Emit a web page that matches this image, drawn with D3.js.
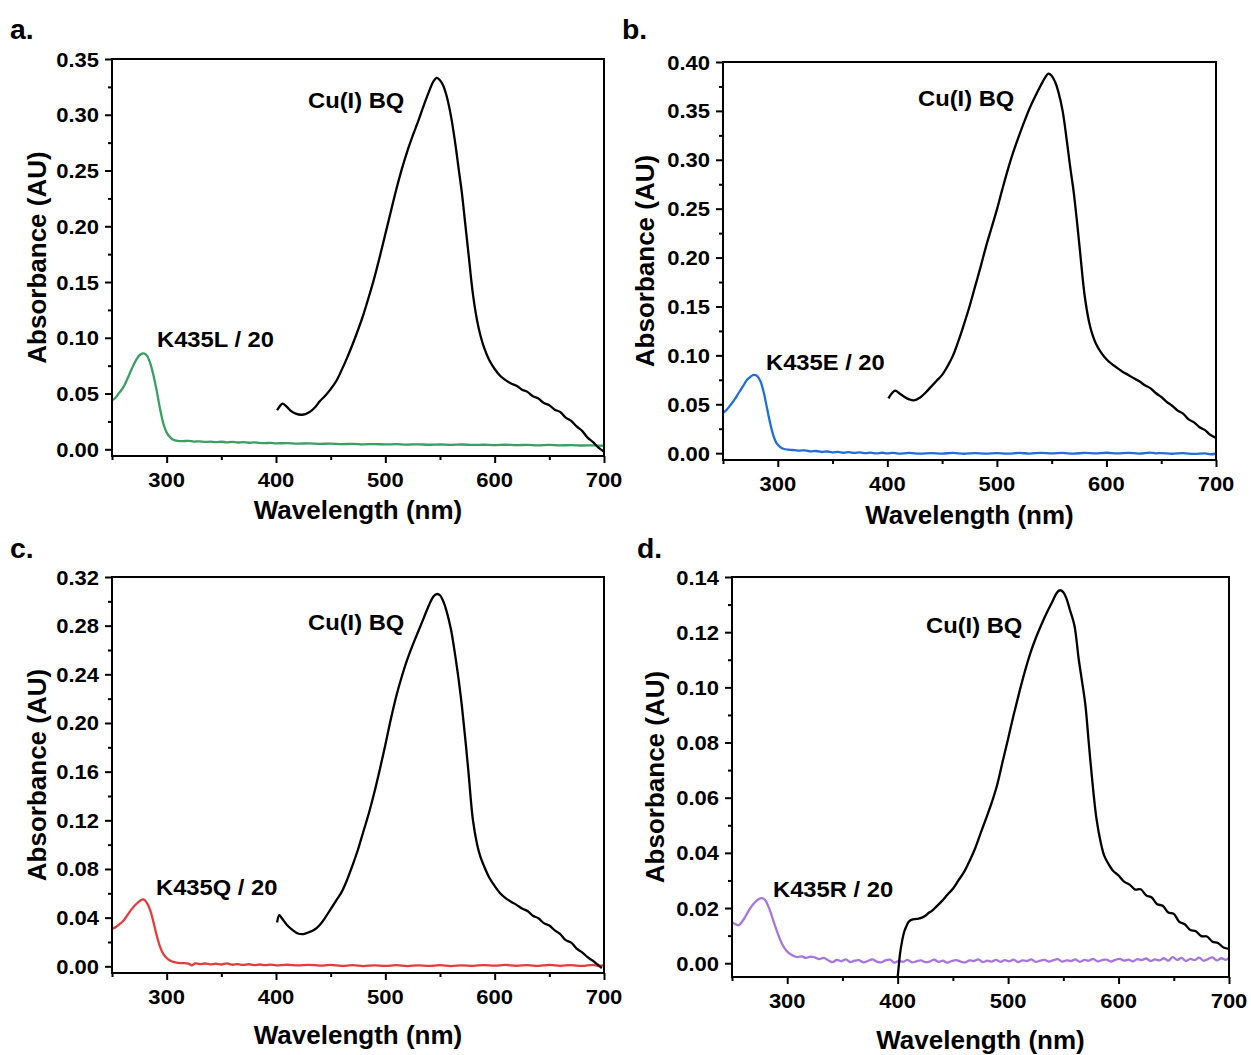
<!DOCTYPE html>
<html>
<head>
<meta charset="utf-8">
<script src="https://cdn.jsdelivr.net/npm/d3@7"></script>
<style>
  html, body { margin: 0; padding: 0; background: #fff; }
  svg { display: block; }
  text { font-family: "Liberation Sans", Arial, sans-serif; font-weight: bold; fill: #000; }
</style>
</head>
<body>
<svg id="fig" width="1251" height="1055"></svg>
<script>
// ---------- tick values ----------
const wavelengthTicks = [300, 400, 500, 600, 700];
const wavelengthMinor = [250, 350, 450, 550, 650];
const absTicksA = [0.00, 0.05, 0.10, 0.15, 0.20, 0.25, 0.30, 0.35];
const absTicksB = [0.00, 0.05, 0.10, 0.15, 0.20, 0.25, 0.30, 0.35, 0.40];
const absTicksC = [0.00, 0.04, 0.08, 0.12, 0.16, 0.20, 0.24, 0.28, 0.32];
const absTicksD = [0.00, 0.02, 0.04, 0.06, 0.08, 0.10, 0.12, 0.14];

// ---------- labels ----------
const panelLetters = ["a.", "b.", "c.", "d."];
const mutantLabels = ["K435L / 20", "K435E / 20", "K435Q / 20", "K435R / 20"];
const complexLabel = "Cu(I) BQ";
const xTitle = "Wavelength (nm)";
const yTitle = "Absorbance (AU)";

// ---------- spectra: [wavelength nm, absorbance AU] ----------
const cuBQ_a = [[401,0.035],[403,0.038],[406,0.041],[409,0.039],[413,0.035],[418,0.032],[424,0.031],[430,0.033],[436,0.038],[440,0.043],[445,0.048],[450,0.054],[455,0.061],[460,0.071],[465,0.082],[470,0.094],[475,0.107],[480,0.121],[485,0.137],[490,0.154],[495,0.173],[500,0.193],[505,0.213],[510,0.233],[515,0.251],[520,0.267],[525,0.281],[530,0.294],[535,0.308],[540,0.321],[544,0.330],[547,0.333],[550,0.331],[553,0.326],[556,0.317],[560,0.299],[564,0.274],[567,0.252],[570,0.230],[573,0.203],[576,0.176],[580,0.140],[584,0.115],[587,0.102],[590,0.092],[595,0.080],[600,0.072],[605,0.066],[610,0.062],[615,0.059],[620,0.057],[625,0.0535],[630,0.0515],[635,0.0475],[640,0.0455],[645,0.0415],[650,0.0395],[655,0.0355],[660,0.0335],[665,0.0285],[670,0.0255],[675,0.0205],[680,0.0165],[685,0.0105],[690,0.0065],[695,0.0015],[700,-0.002]];

const k435L = [[250,0.044],[253,0.046],[256,0.050],[260,0.055],[264,0.063],[268,0.072],[272,0.080],[276,0.085],[279,0.086],[282,0.084],[285,0.077],[288,0.066],[291,0.052],[294,0.036],[297,0.023],[300,0.015],[303,0.011],[306,0.0085],[310,0.0075],[315,0.0073],[320,0.0076],[325,0.0069],[330,0.0072],[335,0.0066],[340,0.0069],[345,0.0064],[350,0.0068],[355,0.0063],[360,0.0066],[365,0.0061],[370,0.0064],[375,0.0059],[380,0.0062],[385,0.0057],[390,0.0055],[395,0.0058],[400,0.0053],[410,0.0056],[420,0.0051],[430,0.0053],[440,0.0049],[450,0.0051],[460,0.0046],[470,0.0049],[480,0.0045],[490,0.0047],[500,0.0044],[510,0.0046],[520,0.0042],[530,0.0045],[540,0.0041],[550,0.0043],[560,0.0040],[570,0.0043],[580,0.0039],[590,0.0041],[600,0.0038],[610,0.0041],[620,0.0037],[630,0.0040],[640,0.0036],[650,0.0039],[660,0.0035],[670,0.0038],[680,0.0034],[690,0.0036],[700,0.0032]];

const cuBQ_b = [[401,0.056],[404,0.061],[407,0.064],[410,0.062],[415,0.058],[420,0.055],[424,0.054],[430,0.057],[435,0.062],[440,0.068],[445,0.074],[450,0.080],[455,0.089],[460,0.100],[465,0.115],[470,0.132],[475,0.150],[480,0.170],[485,0.190],[490,0.211],[495,0.230],[500,0.249],[505,0.270],[510,0.290],[515,0.308],[520,0.324],[525,0.339],[530,0.353],[535,0.365],[540,0.376],[544,0.384],[547,0.388],[550,0.386],[553,0.380],[556,0.370],[560,0.350],[564,0.318],[567,0.292],[570,0.268],[573,0.238],[576,0.205],[580,0.162],[584,0.135],[587,0.122],[590,0.113],[595,0.103],[600,0.096],[605,0.091],[610,0.087],[615,0.083],[620,0.080],[625,0.0765],[630,0.0735],[635,0.0695],[640,0.0665],[645,0.0615],[650,0.0575],[655,0.0525],[660,0.0485],[665,0.0435],[670,0.0405],[675,0.0345],[680,0.0315],[685,0.0265],[690,0.0235],[695,0.0185],[700,0.0156]];

const k435E = [[250,0.041],[253,0.044],[256,0.048],[260,0.054],[264,0.061],[268,0.068],[272,0.075],[275,0.078],[278,0.080],[281,0.079],[284,0.074],[287,0.063],[290,0.047],[293,0.031],[296,0.018],[299,0.010],[302,0.0065],[305,0.0045],[310,0.0035],[315,0.0031],[320,0.0026],[325,0.0029],[330,0.0018],[335,0.0022],[340,0.0012],[345,0.0017],[350,0.0008],[355,0.0013],[360,0.0004],[365,0.0010],[370,0.0002],[375,0.0008],[380,0.0000],[385,0.0006],[390,-0.0003],[395,0.0004],[400,-0.0002],[405,0.0003],[410,-0.0004],[420,0.0002],[430,-0.0005],[440,0.0001],[450,-0.0004],[460,0.0002],[470,-0.0006],[480,0.0001],[490,-0.0004],[500,0.0000],[510,-0.0005],[520,0.0002],[530,-0.0004],[540,0.0003],[550,-0.0003],[560,0.0002],[570,-0.0005],[580,0.0003],[590,-0.0002],[600,0.0004],[610,-0.0003],[620,0.0003],[630,-0.0004],[640,0.0006],[645,-0.0002],[650,0.0001],[660,-0.0006],[670,0.0000],[680,-0.0008],[690,-0.0002],[695,-0.0011],[700,-0.0006]];

const cuBQ_c = [[401,0.036],[403,0.042],[405,0.040],[410,0.034],[415,0.030],[420,0.027],[425,0.0265],[430,0.028],[435,0.030],[440,0.034],[445,0.040],[450,0.047],[455,0.054],[460,0.061],[465,0.071],[470,0.083],[475,0.096],[480,0.111],[485,0.126],[490,0.143],[495,0.162],[500,0.182],[505,0.203],[510,0.222],[515,0.238],[520,0.252],[525,0.264],[530,0.275],[535,0.286],[540,0.297],[544,0.304],[547,0.306],[550,0.305],[553,0.300],[556,0.292],[560,0.277],[564,0.255],[567,0.236],[570,0.214],[573,0.188],[576,0.160],[580,0.121],[584,0.100],[587,0.090],[590,0.083],[595,0.073],[600,0.066],[605,0.060],[610,0.056],[615,0.053],[620,0.0505],[625,0.0475],[630,0.0455],[635,0.0415],[640,0.0395],[645,0.0355],[650,0.0335],[655,0.0295],[660,0.0265],[665,0.0215],[670,0.0195],[675,0.0145],[680,0.0115],[685,0.0075],[690,0.0045],[694,0.0015],[698,-0.0015]];

const k435Q = [[250,0.031],[253,0.032],[256,0.034],[260,0.037],[264,0.042],[268,0.047],[272,0.051],[276,0.054],[279,0.055],[282,0.052],[285,0.046],[288,0.036],[291,0.025],[294,0.016],[297,0.010],[300,0.0068],[303,0.0048],[306,0.0036],[310,0.0028],[315,0.0026],[320,0.0022],[323,0.0008],[326,0.0024],[330,0.0018],[335,0.0023],[340,0.0016],[345,0.0021],[350,0.0015],[355,0.0024],[360,0.0013],[365,0.0018],[370,0.0011],[375,0.0017],[380,0.0010],[385,0.0015],[390,0.0009],[395,0.0014],[400,0.0008],[410,0.0013],[420,0.0007],[430,0.0012],[440,0.0006],[450,0.0011],[460,0.0003],[470,0.0009],[480,0.0002],[490,0.0008],[500,0.0003],[510,0.0009],[520,0.0002],[530,0.0008],[540,0.0003],[550,0.0009],[560,0.0002],[570,0.0008],[580,0.0004],[590,0.0010],[600,0.0005],[610,0.0011],[620,0.0004],[630,0.0010],[640,0.0003],[650,0.0011],[660,0.0004],[670,0.0010],[680,0.0003],[690,0.0012],[695,0.0002],[700,0.0009]];

const cuBQ_d = [[400,-0.005],[401,-0.001],[402,0.003],[404,0.008],[406,0.0115],[408,0.0135],[410,0.015],[413,0.0158],[416,0.0160],[419,0.0162],[422,0.0165],[425,0.0172],[428,0.0182],[431,0.0190],[435,0.0205],[440,0.0225],[445,0.0248],[450,0.0270],[455,0.0300],[460,0.0330],[465,0.0370],[470,0.0415],[475,0.0470],[480,0.0524],[485,0.0580],[490,0.0645],[495,0.0730],[500,0.0814],[505,0.0900],[510,0.0980],[515,0.1055],[520,0.1122],[525,0.1178],[530,0.1226],[535,0.1270],[540,0.1310],[544,0.1342],[547,0.1352],[550,0.1345],[553,0.1320],[556,0.1280],[560,0.1225],[564,0.1100],[567,0.1020],[570,0.0935],[573,0.0800],[576,0.0670],[580,0.0524],[584,0.0435],[587,0.0390],[590,0.0366],[595,0.0335],[600,0.0318],[605,0.0296],[610,0.0285],[615,0.0267],[620,0.0268],[625,0.0246],[630,0.0238],[635,0.0214],[640,0.0208],[645,0.0184],[650,0.0179],[655,0.0150],[660,0.0141],[665,0.0120],[670,0.0116],[675,0.0098],[680,0.0097],[685,0.0078],[690,0.0073],[695,0.0057],[700,0.0052]];

const k435R = [[250,0.0149],[253,0.0142],[256,0.0138],[259,0.0150],[262,0.0168],[265,0.0190],[268,0.0208],[271,0.0222],[274,0.0232],[277,0.0236],[280,0.0229],[283,0.0205],[286,0.0172],[289,0.0135],[292,0.0102],[295,0.0072],[298,0.0052],[301,0.0038],[305,0.0028],[309,0.0022],[313,0.0025],[317,0.0019],[321,0.0024],[325,0.0021],[329,0.0015],[333,0.0019],[337,0.0011],[341,0.0004],[345,0.0012],[349,0.0007],[353,0.0014],[357,0.0004],[361,0.0009],[365,0.0011],[369,0.0003],[373,0.0008],[377,0.0014],[381,0.0006],[385,0.0003],[389,0.0010],[393,0.0013],[397,0.0002],[401,0.0008],[405,0.0005],[409,0.0012],[413,0.0003],[417,0.0007],[421,0.0010],[425,0.0004],[429,0.0006],[433,0.0013],[437,0.0005],[441,0.0009],[445,0.0002],[449,0.0008],[453,0.0011],[457,0.0006],[461,0.0003],[465,0.0010],[469,0.0008],[473,0.0014],[477,0.0004],[481,0.0009],[485,0.0006],[489,0.0012],[493,0.0005],[497,0.0011],[501,0.0007],[505,0.0013],[509,0.0004],[513,0.0010],[517,0.0008],[521,0.0014],[525,0.0005],[529,0.0009],[533,0.0012],[537,0.0006],[541,0.0011],[545,0.0015],[549,0.0006],[553,0.0010],[557,0.0008],[561,0.0014],[565,0.0005],[569,0.0012],[573,0.0009],[577,0.0016],[581,0.0007],[585,0.0011],[589,0.0013],[593,0.0006],[597,0.0012],[601,0.0016],[605,0.0009],[609,0.0013],[613,0.0007],[617,0.0015],[621,0.0011],[625,0.0017],[629,0.0008],[633,0.0014],[637,0.0010],[641,0.0018],[645,0.0009],[649,0.0022],[653,0.0012],[657,0.0019],[661,0.0008],[665,0.0016],[669,0.0011],[673,0.0020],[677,0.0009],[681,0.0015],[685,0.0021],[689,0.0010],[693,0.0018],[697,0.0012],[700,0.0019]];

// ---------- colours ----------
const mutantColors = ["#3a9f62", "#1f6fdb", "#e43b3d", "#a776dd"];

// ---------- layout of the four panels ----------
const panels = [
  { left: 112, right: 604, top: 59,  bottom: 456, yMin: -0.006,  yMax: 0.35, ticks: absTicksA, complex: cuBQ_a, mutant: k435L,
    letterX: 10,  letterY: 39,  cuX: 308, cuY: 108, mutX: 157, mutY: 347, xLabelDy: 31, xTitleDy: 63, yTitleDx: 75 },
  { left: 723, right: 1216, top: 62, bottom: 460, yMin: -0.007,  yMax: 0.40, ticks: absTicksB, complex: cuBQ_b, mutant: k435E,
    letterX: 622, letterY: 39,  cuX: 918, cuY: 106, mutX: 766, mutY: 370, xLabelDy: 31, xTitleDy: 64, yTitleDx: 78 },
  { left: 112, right: 604, top: 577, bottom: 973, yMin: -0.0055, yMax: 0.32, ticks: absTicksC, complex: cuBQ_c, mutant: k435Q,
    letterX: 10,  letterY: 558, cuX: 308, cuY: 630, mutX: 156, mutY: 895, xLabelDy: 31, xTitleDy: 71, yTitleDx: 75 },
  { left: 732, right: 1229, top: 577, bottom: 977, yMin: -0.005, yMax: 0.14, ticks: absTicksD, complex: cuBQ_d, mutant: k435R,
    letterX: 637, letterY: 558, cuX: 926, cuY: 633, mutX: 773, mutY: 897, xLabelDy: 31, xTitleDy: 72, yTitleDx: 77 }
];

const svg = d3.select("#fig");

// text helper: bold sans, slightly widened glyphs
function label(g, str, x, y, size, anchor, sx, rotate) {
  return g.append("text")
    .attr("transform", `translate(${x},${y})` + (rotate ? ` rotate(${rotate})` : "") + ` scale(${sx},1)`)
    .attr("font-size", size)
    .attr("text-anchor", anchor)
    .text(str);
}

panels.forEach((p, i) => {
  const g = svg.append("g");
  const x = d3.scaleLinear().domain([250, 700]).range([p.left, p.right]);
  const y = d3.scaleLinear().domain([p.yMin, p.yMax]).range([p.bottom, p.top]);

  // minor ticks
  const minorY = p.ticks.slice(0, -1).map((v, k) => (v + p.ticks[k + 1]) / 2);
  g.append("g").attr("transform", `translate(0,${p.bottom})`)
    .call(d3.axisBottom(x).tickValues(wavelengthMinor).tickSize(4).tickSizeOuter(0).tickFormat(""));
  g.append("g").attr("transform", `translate(${p.left},0)`)
    .call(d3.axisLeft(y).tickValues(minorY).tickSize(4).tickSizeOuter(0).tickFormat(""));
  // major ticks
  g.append("g").attr("transform", `translate(0,${p.bottom})`)
    .call(d3.axisBottom(x).tickValues(wavelengthTicks).tickSize(7).tickSizeOuter(0).tickFormat(""));
  g.append("g").attr("transform", `translate(${p.left},0)`)
    .call(d3.axisLeft(y).tickValues(p.ticks).tickSize(7).tickSizeOuter(0).tickFormat(""));
  g.selectAll(".domain").remove();
  g.selectAll(".tick line").attr("stroke", "#000").attr("stroke-width", 2);

  // tick labels
  const yFmt = d3.format(".2f");
  p.ticks.forEach(v => label(g, yFmt(v), p.left - 13, y(v) + 7.5, 20, "end", 1.1));
  wavelengthTicks.forEach(v => label(g, String(v), x(v), p.bottom + p.xLabelDy, 20, "middle", 1.1));

  // axis titles
  label(g, xTitle, (p.left + p.right) / 2, p.bottom + p.xTitleDy, 25, "middle", 1.04);
  label(g, yTitle, p.left - p.yTitleDx + 9, (p.top + p.bottom) / 2, 25, "middle", 1.04, -90);

  // spectra
  const line = d3.line().curve(d3.curveCatmullRom.alpha(0.5)).x(d => x(d[0])).y(d => y(d[1]));
  g.append("path").datum(p.mutant)
    .attr("fill", "none").attr("stroke", mutantColors[i]).attr("stroke-width", 2.3)
    .attr("stroke-linejoin", "round").attr("d", line);
  g.append("path").datum(p.complex)
    .attr("fill", "none").attr("stroke", "#000").attr("stroke-width", 2.3)
    .attr("stroke-linejoin", "round").attr("d", line);

  // frame
  g.append("rect").attr("x", p.left).attr("y", p.top)
    .attr("width", p.right - p.left).attr("height", p.bottom - p.top)
    .attr("fill", "none").attr("stroke", "#000").attr("stroke-width", 2);

  // annotations
  label(g, complexLabel, p.cuX, p.cuY, 22, "start", 1.08);
  label(g, mutantLabels[i], p.mutX, p.mutY, 22, "start", 1.08);

  // panel letter
  label(svg, panelLetters[i], p.letterX, p.letterY, 27, "start", 1.05);
});
</script>
</body>
</html>
